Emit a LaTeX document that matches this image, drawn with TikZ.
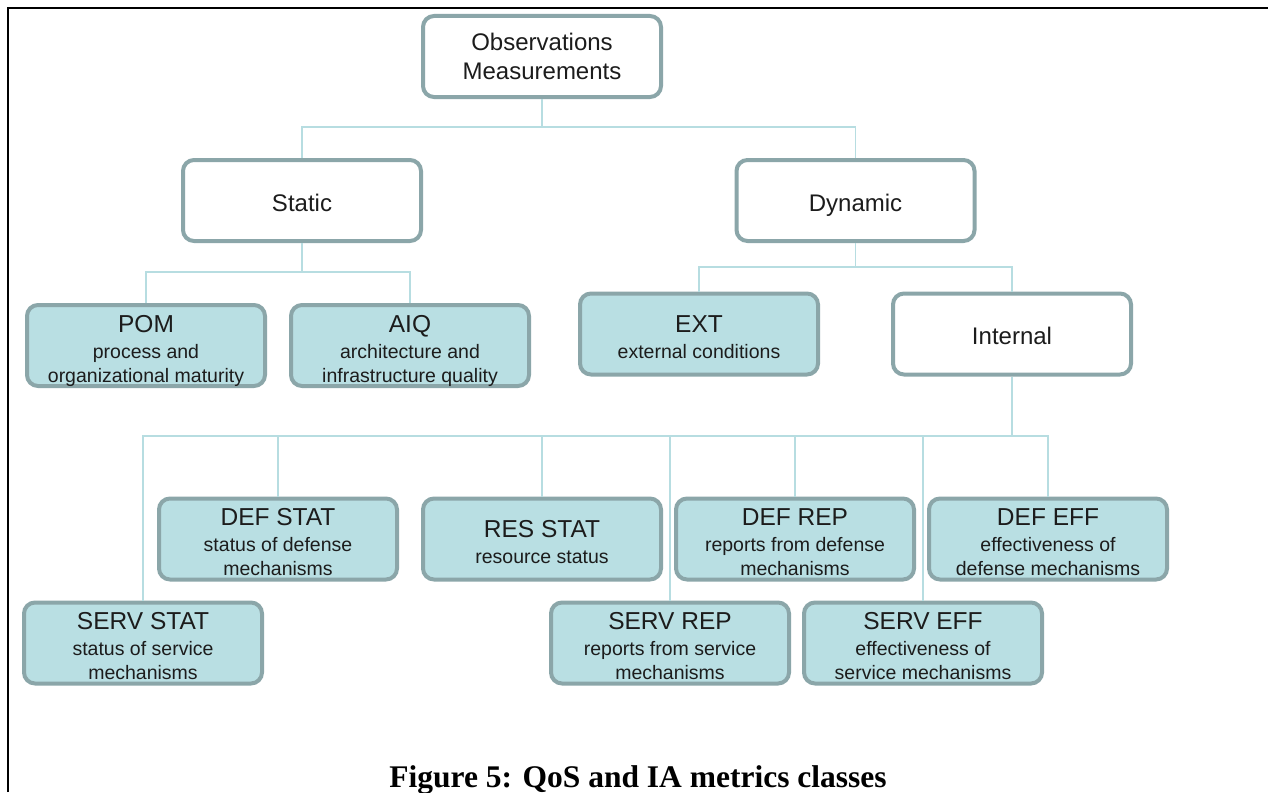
\documentclass[tikz,border=0pt]{standalone}
\usepackage{fontspec}
\setmainfont{Liberation Sans}
\newfontfamily\capfont{Liberation Serif}
\definecolor{edgegray}{HTML}{8BA6A9}
\definecolor{leaffill}{HTML}{B9DFE3}
\definecolor{linkcyan}{HTML}{B7DDE1}
\definecolor{inktext}{HTML}{1C1C1C}
% first line of a metric box: its name, a little taller than the rest
\newcommand{\headline}[1]{{\fontsize{24.5}{24}\selectfont\rule{0pt}{23pt}#1}\\[2pt]}
\tikzset{
  box/.style={draw=edgegray, line width=4pt, rounded corners=11pt,
    minimum width=238pt, minimum height=81pt, align=center,
    text=inktext, inner sep=0pt, text depth=0pt},
  groupbox/.style={box, fill=white, font=\fontsize{24}{29}\selectfont,
    execute at begin node={\rule{0pt}{21.5pt}}},
  leafbox/.style={box, fill=leaffill, font=\fontsize{19.5}{24}\selectfont},
  link/.style={draw=linkcyan, line width=1.5pt}
}
\begin{document}
\begin{tikzpicture}[x=1pt,y=-1pt]
\fill[white] (0,0) rectangle (1268,792);
\useasboundingbox (0,0) rectangle (1268,792);
% page frame
\draw[line width=2.5pt] (8,792) -- (8,8) -- (1268,8);

% top levels
\node[groupbox] (obs) at (542,56.5) {Observations\\Measurements};
\node[groupbox] (static) at (302,200.5) {Static};
\node[groupbox] (dynamic) at (855.5,200.5) {Dynamic};

% second level
\node[leafbox] (pom) at (146,345.5) {\headline{POM}process and\\organizational maturity};
\node[leafbox] (aiq) at (410,345.5) {\headline{AIQ}architecture and\\infrastructure quality};
\node[leafbox] (ext) at (699,334) {\headline{EXT}external conditions};
\node[groupbox] (internal) at (1012,334) {Internal};

% internal metrics
\node[leafbox] (defstat) at (278,539) {\headline{DEF STAT}status of defense\\mechanisms};
\node[leafbox] (resstat) at (542,539) {\headline{RES STAT}resource status};
\node[leafbox] (defrep) at (795,539) {\headline{DEF REP}reports from defense\\mechanisms};
\node[leafbox] (defeff) at (1048,539) {\headline{DEF EFF}effectiveness of\\defense mechanisms};
\node[leafbox] (servstat) at (143,643) {\headline{SERV STAT}status of service\\mechanisms};
\node[leafbox] (servrep) at (670,643) {\headline{SERV REP}reports from service\\mechanisms};
\node[leafbox] (serveff) at (923,643) {\headline{SERV EFF}effectiveness of\\service mechanisms};

% junctions
\coordinate (j0) at (542,127);
\coordinate (j1) at (302,272);
\coordinate (j2) at (855.5,267);
\coordinate (j3) at (1012,436);

% connectors
\draw[link] (obs.south) -- (j0);
\draw[link] (static.north) |- (j0) -| (dynamic.north);
\draw[link] (static.south) -- (j1);
\draw[link] (pom.north) |- (j1) -| (aiq.north);
\draw[link] (dynamic.south) -- (j2);
\draw[link] (ext.north) |- (j2) -| (internal.north);
\draw[link] (internal.south) -- (j3);
\draw[link] (servstat.north) |- (j3) -| (defeff.north);
\draw[link] (defstat.north) -- (defstat.north |- j3);
\draw[link] (resstat.north) -- (resstat.north |- j3);
\draw[link] (servrep.north) -- (servrep.north |- j3);
\draw[link] (defrep.north) -- (defrep.north |- j3);
\draw[link] (serveff.north) -- (serveff.north |- j3);

% caption
\node[font=\capfont\bfseries\fontsize{31.5}{31.5}\selectfont, anchor=base, inner sep=0pt]
  (caption) at (638,787) {Figure 5: QoS and IA metrics classes};
\end{tikzpicture}
\end{document}
